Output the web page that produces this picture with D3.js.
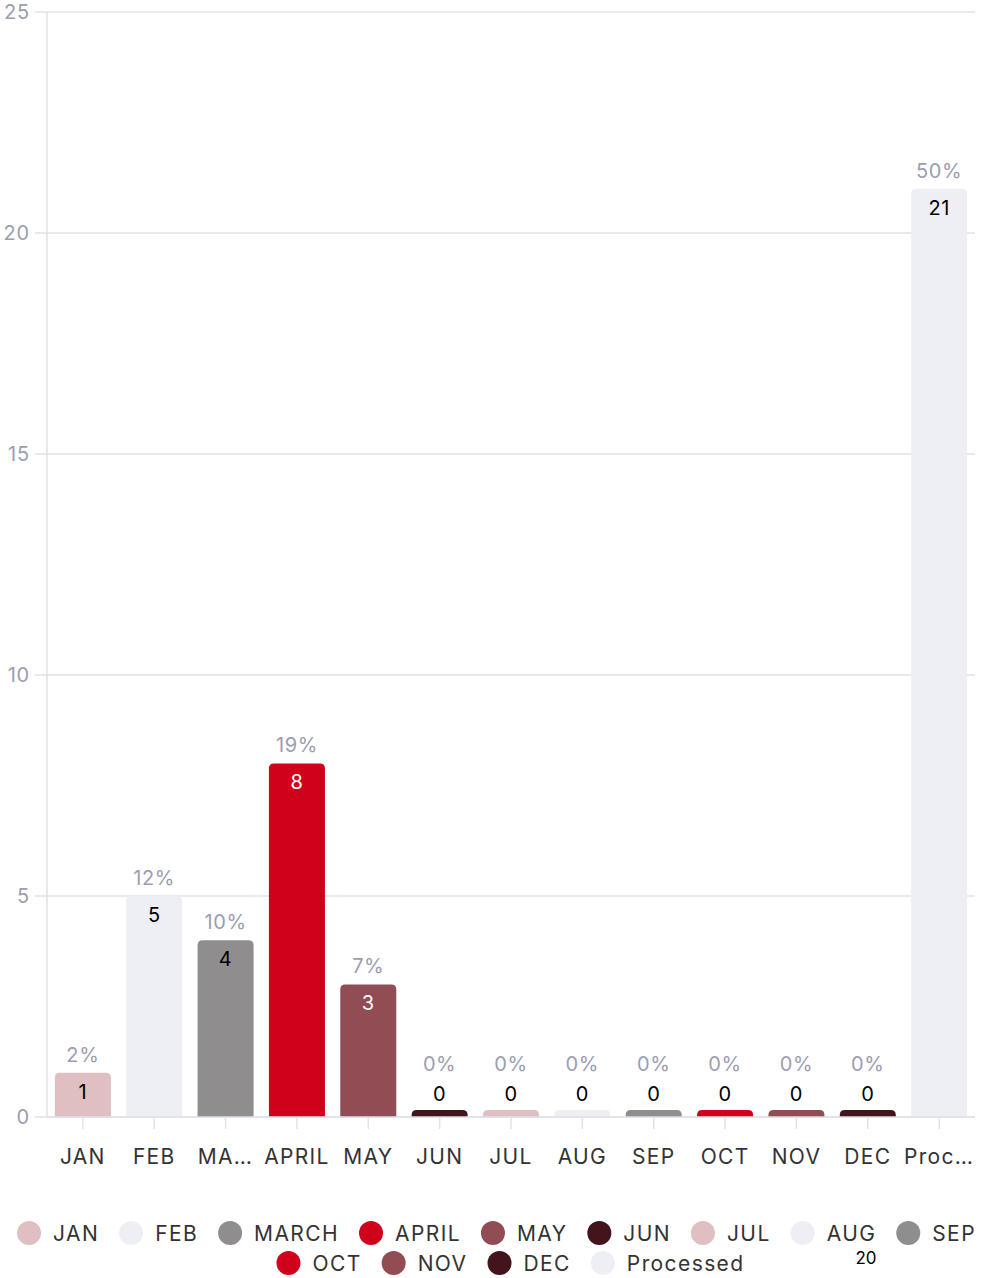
<!DOCTYPE html>
<html>
<head>
<meta charset="utf-8">
<script src="https://cdn.jsdelivr.net/npm/d3@7"></script>
<style>
  html, body { margin: 0; padding: 0; background: #fff; }
  svg { display: block; font-family: Inter, "Noto Sans", sans-serif; }
</style>
</head>
<body>
<svg id="chart" width="993" height="1278"></svg>
<script>
// Monthly counts plus the processed total
const categories = ["JAN", "FEB", "MARCH", "APRIL", "MAY", "JUN", "JUL", "AUG", "SEP", "OCT", "NOV", "DEC", "Processed"];
const axisLabels = ["JAN", "FEB", "MA…", "APRIL", "MAY", "JUN", "JUL", "AUG", "SEP", "OCT", "NOV", "DEC", "Proc…"];
const values = [1, 5, 4, 8, 3, 0, 0, 0, 0, 0, 0, 0, 21];
const percentLabels = ["2%", "12%", "10%", "19%", "7%", "0%", "0%", "0%", "0%", "0%", "0%", "0%", "50%"];
const colors = ["#dfbfc2", "#eeeff5", "#8f8d8e", "#d0021b", "#924c53", "#42141c", "#dfbfc2", "#eeeff5", "#8f8d8e", "#d0021b", "#924c53", "#42141c", "#eeeff5"];
const valueTextColors = ["#000", "#000", "#000", "#fff", "#fff", "#000", "#000", "#000", "#000", "#000", "#000", "#000", "#000"];
const yTicks = [0, 5, 10, 15, 20, 25];
const footnoteValue = "20";

const svg = d3.select("#chart");
const margin = { left: 47, right: 975, top: 12, bottom: 1117 };

const x = d3.scaleBand().domain(categories).range([margin.left, margin.right]).paddingInner(0.215).paddingOuter(0.11);
const y = d3.scaleLinear().domain([0, 25]).range([margin.bottom, margin.top]);

// Gridlines
svg.append("g").selectAll("line").data(yTicks).join("line")
  .attr("x1", 35).attr("x2", margin.right)
  .attr("y1", d => y(d)).attr("y2", d => y(d))
  .attr("stroke", "#e1e1ea").attr("stroke-width", 1.5);

// Y axis line
svg.append("line").attr("x1", margin.left).attr("x2", margin.left)
  .attr("y1", y(25)).attr("y2", y(0)).attr("stroke", "#e1e1ea").attr("stroke-width", 1.5);

// Y tick labels
svg.append("g").selectAll("text").data(yTicks).join("text")
  .attr("x", 30).attr("y", d => y(d)).attr("dy", "0.35em")
  .attr("text-anchor", "end").attr("font-size", 20).attr("letter-spacing", 0.8).attr("fill", "#9d9db0")
  .text(d => d);

// Bars with rounded top corners; zero values get a thin stub
const r = 5;
const minH = 7;
function barPath(d, i) {
  const x0 = x(categories[i]), w = x.bandwidth();
  const yb = y(0);
  const h = Math.max(y(0) - y(d), minH);
  const yt = yb - h;
  const rr = Math.min(r, h);
  return `M${x0},${yb}V${yt + rr}Q${x0},${yt} ${x0 + rr},${yt}H${x0 + w - rr}Q${x0 + w},${yt} ${x0 + w},${yt + rr}V${yb}Z`;
}
svg.append("g").selectAll("path").data(values).join("path")
  .attr("d", (d, i) => barPath(d, i))
  .attr("fill", (d, i) => colors[i]);

// X axis baseline and ticks
svg.append("line").attr("x1", margin.left).attr("x2", margin.right)
  .attr("y1", y(0)).attr("y2", y(0)).attr("stroke", "#e1e1ea").attr("stroke-width", 1.5);
svg.append("g").selectAll("line").data(categories).join("line")
  .attr("x1", d => x(d) + x.bandwidth() / 2).attr("x2", d => x(d) + x.bandwidth() / 2)
  .attr("y1", y(0)).attr("y2", y(0) + 12)
  .attr("stroke", "#e1e1ea").attr("stroke-width", 1.5);

// X axis labels
svg.append("g").selectAll("text").data(axisLabels).join("text")
  .attr("x", (d, i) => x(categories[i]) + x.bandwidth() / 2)
  .attr("y", 1164).attr("text-anchor", "middle")
  .attr("font-size", 21).attr("letter-spacing", 1.3).attr("fill", "#333")
  .text(d => d);

// Value labels
svg.append("g").selectAll("text").data(values).join("text")
  .attr("x", (d, i) => x(categories[i]) + x.bandwidth() / 2)
  .attr("y", d => d > 0 ? y(d) + 26 : y(0) - 16)
  .attr("text-anchor", "middle").attr("font-size", 20).attr("letter-spacing", 0.5)
  .attr("fill", (d, i) => d > 0 ? valueTextColors[i] : "#000")
  .text(d => d);

// Percentage labels
svg.append("g").selectAll("text").data(values).join("text")
  .attr("x", (d, i) => x(categories[i]) + x.bandwidth() / 2)
  .attr("y", d => d > 0 ? y(d) - 11 : y(0) - 46)
  .attr("text-anchor", "middle").attr("font-size", 20).attr("letter-spacing", 0.6).attr("fill", "#9d9db0")
  .text((d, i) => percentLabels[i]);

// Legend, wrapped into centered rows
const legendFont = 21, rad = 12, gapText = 12, gapItem = 20, maxW = 985;
const legend = svg.append("g");
const items = categories.map((c, i) => {
  const g = legend.append("g");
  g.append("circle").attr("r", rad).attr("cx", rad).attr("cy", 0).attr("fill", colors[i]);
  const t = g.append("text").attr("x", 2 * rad + gapText).attr("y", 0).attr("dy", "0.36em")
    .attr("font-size", legendFont).attr("fill", "#333").attr("letter-spacing", 1.4).text(c);
  const w = 2 * rad + gapText + t.node().getComputedTextLength();
  return { g, w };
});
const rows = [[]];
let rowW = 0;
items.forEach(it => {
  const add = (rows[rows.length - 1].length ? gapItem : 0) + it.w;
  if (rowW + add > maxW && rows[rows.length - 1].length) { rows.push([it]); rowW = it.w; }
  else { rows[rows.length - 1].push(it); rowW += add; }
});
rows.forEach((row, ri) => {
  const total = row.reduce((s, it) => s + it.w, 0) + gapItem * (row.length - 1);
  let cx = (993 - total) / 2 + ri * 14;
  row.forEach(it => {
    it.g.attr("transform", `translate(${cx},${1233 + ri * 30})`);
    cx += it.w + gapItem;
  });
});

// Stray value text beneath the legend's AUG entry
svg.append("text").attr("x", 866).attr("y", 1264).attr("text-anchor", "middle")
  .attr("font-size", 17).attr("fill", "#000").text(footnoteValue);
</script>
</body>
</html>
